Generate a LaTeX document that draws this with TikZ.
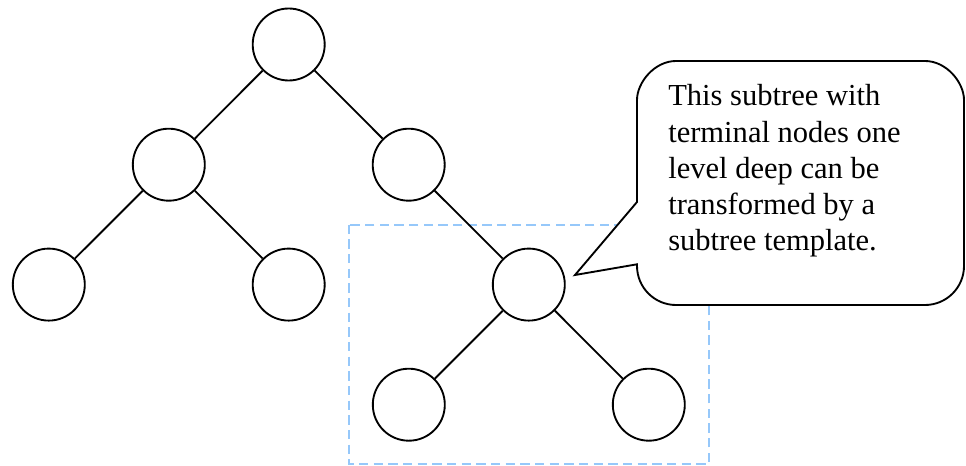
\documentclass[tikz,border=0pt]{standalone}
\usepackage{fontspec}
\setmainfont{Liberation Serif}
\definecolor{boxblue}{RGB}{150,200,250}
\begin{document}
\begin{tikzpicture}[x=0.75pt,y=-0.75pt,
  tnode/.style={circle,draw=black,line width=1.4pt,minimum size=54pt,inner sep=0pt,fill=white},
  edge/.style={draw=black,line width=1.4pt},
  selbox/.style={draw=boxblue,line width=1.3pt,dash pattern=on 7pt off 4pt},
  callout/.style={draw=black,line width=1.4pt,fill=white,line join=miter}]
\useasboundingbox (0,0) rectangle (966,466);
% dashed selection box
\draw[selbox] (349,224.7) rectangle (709,464);
% nodes
\node[tnode] (r)   at (288.7,44.5) {};
\node[tnode] (a)   at (168.8,164.7) {};
\node[tnode] (b)   at (408.7,164.7) {};
\node[tnode] (aa)  at (48.8,284.6) {};
\node[tnode] (ab)  at (288.7,284.6) {};
\node[tnode] (bb)  at (528.8,284.6) {};
\node[tnode] (bba) at (408.8,404.7) {};
\node[tnode] (bbb) at (648.8,404.7) {};
% edges
\draw[edge] (r) -- (a);
\draw[edge] (r) -- (b);
\draw[edge] (a) -- (aa);
\draw[edge] (a) -- (ab);
\draw[edge] (b) -- (bb);
\draw[edge] (bb) -- (bba);
\draw[edge] (bb) -- (bbb);
% callout
\coordinate (tip) at (575,275);
\draw[callout] (637,202)
  -- (637,100) .. controls (637,82.5) and (654.5,61) .. (676,61)
  -- (925,61) .. controls (946.5,61) and (964,82.5) .. (964,100)
  -- (964,266) .. controls (964,287.5) and (946.5,305) .. (925,305)
  -- (676,305) .. controls (654.5,305) and (637,287.5) .. (637,266)
  -- (637,264.3) -- (tip) -- cycle;
\node[anchor=base west,align=left,inner sep=0pt,font=\fontsize{22.9pt}{27.2pt}\selectfont] (txt) at (668,250.9)
  {This subtree with\\terminal nodes one\\level deep can be\\transformed by a\\subtree template.};
\end{tikzpicture}
\end{document}
